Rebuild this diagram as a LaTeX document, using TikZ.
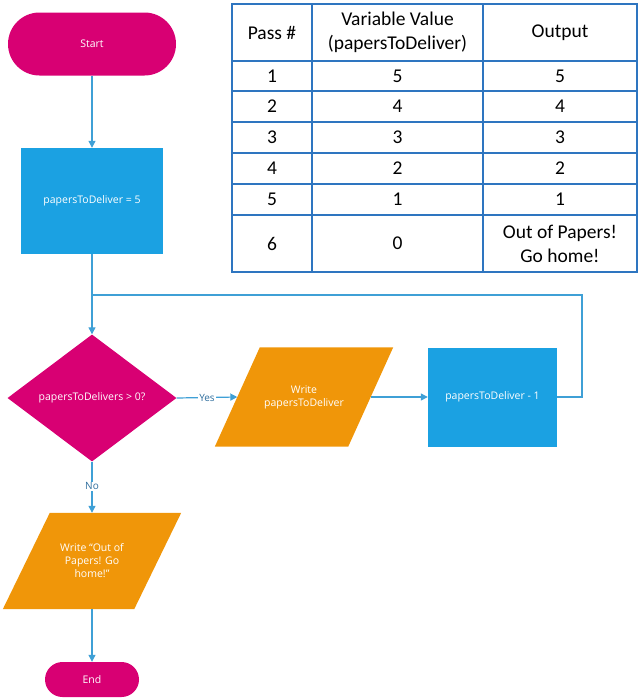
\documentclass[tikz,border=0pt]{standalone}
\usepackage{fontspec}
\setmainfont{Open Sans}
\newfontfamily\tabfont{Carlito}
\usetikzlibrary{shapes.geometric,arrows.meta}
\pgfdeclarelayer{bg}
\pgfsetlayers{bg,main}
\definecolor{mag}{HTML}{D80073}
\definecolor{cyanbox}{HTML}{1BA1E2}
\definecolor{orng}{HTML}{F09609}
\definecolor{conn}{HTML}{3FA0D6}
\definecolor{lbl}{HTML}{2F6E9E}
\definecolor{tblue}{HTML}{2E75C0}
\tikzset{
  flowtext/.style={text=white,font=\fontsize{10.5}{13}\selectfont,align=center,inner sep=0},
  term/.style={flowtext,fill=mag,rounded corners=#1},
  procbox/.style={flowtext,fill=cyanbox},
  io/.style={flowtext},
  iofill/.style={fill=orng},
  decide/.style={flowtext,fill=mag,diamond},
  conline/.style={draw=conn,line width=1.2pt},
  conarrow/.style={conline,-{Triangle[width=7pt,length=7pt]}},
  edgelabel/.style={text=lbl,fill=white,font=\fontsize{10}{12}\selectfont,inner sep=1pt},
  cell/.style={font=\tabfont\fontsize{19.5}{24}\selectfont,align=center,inner sep=0},
  grid/.style={draw=tblue,line width=2.4pt}
}
\begin{document}
\begin{tikzpicture}[x=1pt,y=-1pt]
\useasboundingbox (0,0) rectangle (642,699);
% flowchart
\node[term=31.5pt,minimum width=168pt,minimum height=63pt] (start) at (92,44) {Start};
\node[procbox,minimum width=142pt,minimum height=106pt] (init) at (92,201) {papersToDeliver = 5};
\node[decide,minimum width=169pt,minimum height=127pt] (dec) at (92,398) {papersToDelivers > 0?};
\node[io,minimum width=133pt,minimum height=99pt] (write) at (304,397) {Write\\papersToDeliver};
\node[procbox,minimum width=129pt,minimum height=99pt] (dec1) at (492.5,397) {papersToDeliver - 1};
\node[io,minimum width=131pt,minimum height=96pt] (out) at (92,561) {Write ``Out of\\Papers! Go\\home!''};
\node[term=17.5pt,minimum width=94pt,minimum height=35pt] (end) at (92,679.5) {End};
\begin{pgfonlayer}{bg}
\fill[iofill] ([xshift=-22.5pt]write.south west) -- ([xshift=-22.5pt]write.south east)
  -- ([xshift=22.5pt]write.north east) -- ([xshift=22.5pt]write.north west) -- cycle;
\fill[iofill] ([xshift=-23.5pt]out.south west) -- ([xshift=-23.5pt]out.south east)
  -- ([xshift=23.5pt]out.north east) -- ([xshift=23.5pt]out.north west) -- cycle;
\end{pgfonlayer}
\coordinate (join) at (92,295);
\coordinate (corner) at (582,397);
\draw[conarrow] (start) -- (init);
\draw[conline] (init) -- (join);
\draw[conarrow] (join) -- (dec.north);
\draw[conarrow] (dec.east) -- (write.west) node[edgelabel,pos=0.5] (yes) {Yes};
\draw[conarrow] (write.east) -- (dec1.west);
\draw[conline] (dec1.east) -- (corner) |- (join);
\draw[conarrow] (dec.south) -- (out.north) node[edgelabel,pos=0.48] (no) {No};
\draw[conarrow] (out.south) -- (end.north);
% table
\foreach \yy in {61,91,122,153,184,215} \draw[grid] (232,\yy) -- (637,\yy);
\foreach \xx in {312,483} \draw[grid] (\xx,4) -- (\xx,272);
\draw[grid] (232,4) rectangle (637,272);
\node[cell] (h1) at (272,32.5) {Pass \#};
\node[cell] (h2) at (397.5,32.5) {Variable Value\\(papersToDeliver)};
\node[cell] (h3) at (560,32.5) {Output};
\foreach \r/\yy/\v in {1/76/5,2/106.5/4,3/137.5/3,4/168.5/2,5/199.5/1}{
  \node[cell] (p\r) at (272,\yy) {\r};
  \node[cell] (v\r) at (397.5,\yy) {\v};
  \node[cell] (o\r) at (560,\yy) {\v};
}
\node[cell] (p6) at (272,243.5) {6};
\node[cell] (v6) at (397.5,243.5) {0};
\node[cell] (o6) at (560,243.5) {Out of Papers!\\Go home!};
\end{tikzpicture}
\end{document}
